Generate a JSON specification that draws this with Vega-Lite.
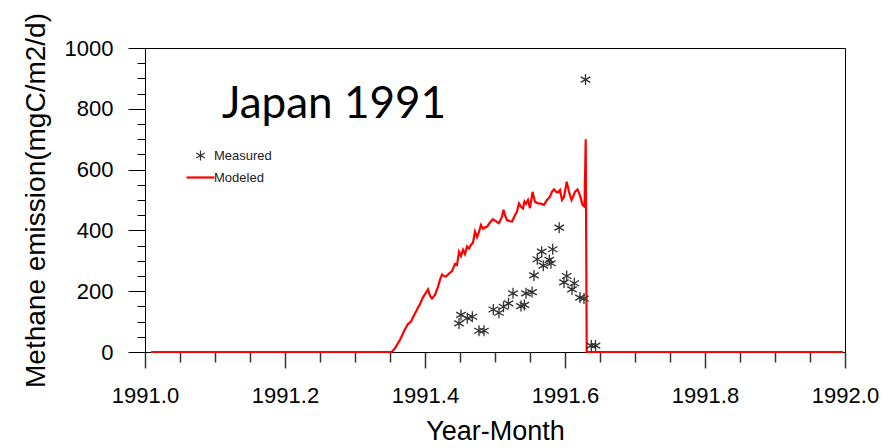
{
  "$schema": "https://vega.github.io/schema/vega-lite/v6.json",
  "width": 700,
  "height": 304,
  "autosize": {"type": "none"},
  "padding": {"left": 145, "top": 48, "right": 48, "bottom": 96},
  "background": "white",
  "config": {
    "view": {"stroke": "#000", "strokeWidth": 1},
    "font": "Liberation Sans",
    "axis": {"grid": false, "domainColor": "#000", "tickColor": "#000", "labelColor": "#000", "titleColor": "#000"}
  },
  "datasets": {
    "modeled": [
      {"t": 1991.0086, "v": 0}, {"t": 1991.3524, "v": 0}, {"t": 1991.3571, "v": 12}, {"t": 1991.3643, "v": 40},
      {"t": 1991.3714, "v": 75}, {"t": 1991.3757, "v": 92}, {"t": 1991.38, "v": 100}, {"t": 1991.3843, "v": 120},
      {"t": 1991.3886, "v": 140}, {"t": 1991.3929, "v": 158}, {"t": 1991.3971, "v": 180}, {"t": 1991.4014, "v": 195},
      {"t": 1991.4043, "v": 206}, {"t": 1991.4071, "v": 185}, {"t": 1991.41, "v": 176}, {"t": 1991.4143, "v": 188},
      {"t": 1991.4186, "v": 215}, {"t": 1991.4214, "v": 237}, {"t": 1991.4243, "v": 255}, {"t": 1991.4271, "v": 250},
      {"t": 1991.43, "v": 248}, {"t": 1991.4343, "v": 258}, {"t": 1991.4386, "v": 266}, {"t": 1991.4429, "v": 290},
      {"t": 1991.4457, "v": 286}, {"t": 1991.4486, "v": 330}, {"t": 1991.4514, "v": 316}, {"t": 1991.4543, "v": 336},
      {"t": 1991.4571, "v": 322}, {"t": 1991.46, "v": 347}, {"t": 1991.4629, "v": 340}, {"t": 1991.4657, "v": 352},
      {"t": 1991.4686, "v": 360}, {"t": 1991.4714, "v": 396}, {"t": 1991.4743, "v": 378}, {"t": 1991.4771, "v": 395},
      {"t": 1991.48, "v": 418}, {"t": 1991.4829, "v": 405}, {"t": 1991.4857, "v": 410}, {"t": 1991.4886, "v": 412},
      {"t": 1991.4929, "v": 426}, {"t": 1991.4971, "v": 437}, {"t": 1991.5014, "v": 430}, {"t": 1991.5057, "v": 424},
      {"t": 1991.51, "v": 445}, {"t": 1991.5121, "v": 468}, {"t": 1991.5143, "v": 450}, {"t": 1991.5171, "v": 434},
      {"t": 1991.5214, "v": 430}, {"t": 1991.5243, "v": 429}, {"t": 1991.5286, "v": 450}, {"t": 1991.5314, "v": 462},
      {"t": 1991.5343, "v": 489}, {"t": 1991.5371, "v": 478}, {"t": 1991.54, "v": 472}, {"t": 1991.5421, "v": 495},
      {"t": 1991.5443, "v": 488}, {"t": 1991.5471, "v": 500}, {"t": 1991.55, "v": 473}, {"t": 1991.5536, "v": 527},
      {"t": 1991.5571, "v": 494}, {"t": 1991.5614, "v": 489}, {"t": 1991.5657, "v": 488}, {"t": 1991.57, "v": 484},
      {"t": 1991.5743, "v": 500}, {"t": 1991.5786, "v": 511}, {"t": 1991.5814, "v": 528}, {"t": 1991.5843, "v": 535},
      {"t": 1991.5871, "v": 527}, {"t": 1991.59, "v": 525}, {"t": 1991.5929, "v": 533}, {"t": 1991.5957, "v": 500},
      {"t": 1991.5986, "v": 510}, {"t": 1991.6024, "v": 560}, {"t": 1991.6057, "v": 527}, {"t": 1991.6093, "v": 500},
      {"t": 1991.6114, "v": 510}, {"t": 1991.6143, "v": 527}, {"t": 1991.6179, "v": 535}, {"t": 1991.6214, "v": 515},
      {"t": 1991.625, "v": 484}, {"t": 1991.6279, "v": 478}, {"t": 1991.6296, "v": 700}, {"t": 1991.631, "v": 0},
      {"t": 1991.9971, "v": 0}
    ],
    "measured": [
      {"t": 1991.4514, "v": 122}, {"t": 1991.4486, "v": 94}, {"t": 1991.4604, "v": 111}, {"t": 1991.4676, "v": 116},
      {"t": 1991.4771, "v": 70}, {"t": 1991.4843, "v": 70}, {"t": 1991.4976, "v": 140}, {"t": 1991.5057, "v": 129},
      {"t": 1991.5121, "v": 149}, {"t": 1991.5193, "v": 160}, {"t": 1991.5257, "v": 193}, {"t": 1991.5371, "v": 151},
      {"t": 1991.5419, "v": 155}, {"t": 1991.5443, "v": 193}, {"t": 1991.5529, "v": 197}, {"t": 1991.5557, "v": 252},
      {"t": 1991.5604, "v": 305}, {"t": 1991.5667, "v": 330}, {"t": 1991.569, "v": 284}, {"t": 1991.5776, "v": 303},
      {"t": 1991.58, "v": 292}, {"t": 1991.5824, "v": 338}, {"t": 1991.5917, "v": 409}, {"t": 1991.5986, "v": 229},
      {"t": 1991.6024, "v": 250}, {"t": 1991.61, "v": 206}, {"t": 1991.6133, "v": 226}, {"t": 1991.6214, "v": 179},
      {"t": 1991.6271, "v": 176}, {"t": 1991.6293, "v": 896}, {"t": 1991.6376, "v": 21}, {"t": 1991.6436, "v": 21}
    ],
    "label": [{"name": "Japan 1991"}]
  },
  "resolve": {"axis": {"x": "independent", "y": "independent"}},
  "layer": [
    {
      "data": {"name": "modeled"},
      "mark": {"type": "line", "color": "#ff0000", "strokeWidth": 2.2},
      "encoding": {
        "x": {
          "field": "t", "type": "quantitative",
          "scale": {"domain": [1991, 1992], "nice": false, "zero": false},
          "axis": {
            "orient": "bottom", "values": [1991, 1991.2, 1991.4, 1991.6, 1991.8, 1992], "format": ".1f",
            "tickSize": 16, "tickWidth": 1.5, "tickColor": "#333", "labelFontSize": 22, "labelPadding": 17, "labelFlush": false, "labelOverlap": false,
            "title": "Year-Month", "titleFontSize": 27, "titleFontWeight": "normal", "titlePadding": 12,
            "encode": {"ticks": {"update": {"y": {"value": 0}, "y2": {"value": 16}}}}
          }
        },
        "y": {
          "field": "v", "type": "quantitative",
          "scale": {"domain": [0, 1000], "nice": false},
          "axis": {
            "orient": "left", "values": [0, 200, 400, 600, 800, 1000], "format": "d",
            "tickSize": 17, "labelFontSize": 22, "labelPadding": 15, "labelFlush": false, "labelOverlap": false,
            "title": "Methane emission(mgC/m2/d)", "titleFontSize": 28, "titleFontWeight": "normal", "titlePadding": 14
          }
        },
        "color": {
          "datum": "Modeled",
          "scale": {"domain": ["Measured", "Modeled"], "range": ["#333333", "#ff0000"]},
          "legend": {
            "title": null, "orient": "none", "legendX": 49, "legendY": 101, "padding": 0,
            "symbolSize": 100, "labelFontSize": 13, "labelColor": "#222", "labelOffset": 7, "rowPadding": 8,
            "encode": {
              "symbols": {
                "update": {
                  "shape": {"signal": "datum.value === 'Modeled' ? 'stroke' : 'M0,-1V1M-0.866,-0.5L0.866,0.5M-0.866,0.5L0.866,-0.5'"},
                  "size": {"signal": "datum.value === 'Modeled' ? 784 : 100"},
                  "strokeWidth": {"signal": "datum.value === 'Modeled' ? 2.2 : 1.2"},
                  "fill": {"value": "transparent"}
                }
              }
            }
          }
        }
      }
    },
    {
      "data": {"name": "measured"},
      "mark": {"type": "point", "filled": false, "shape": "M0,-1V1M-0.866,-0.5L0.866,0.5M-0.866,0.5L0.866,-0.5", "size": 121, "strokeWidth": 1.3, "opacity": 1},
      "encoding": {
        "x": {
          "field": "t", "type": "quantitative",
          "axis": {
            "orient": "bottom", "values": [1991.05, 1991.1, 1991.15, 1991.25, 1991.3, 1991.35, 1991.45, 1991.5, 1991.55, 1991.65, 1991.7, 1991.75, 1991.85, 1991.9, 1991.95],
            "tickSize": 10, "tickWidth": 1.5, "tickColor": "#333", "labels": false, "domain": false, "title": null,
            "encode": {"ticks": {"update": {"y": {"value": 0}, "y2": {"value": 10}}}}
          }
        },
        "y": {
          "field": "v", "type": "quantitative",
          "axis": {
            "orient": "left", "values": [50, 100, 150, 250, 300, 350, 450, 500, 550, 650, 700, 750, 850, 900, 950],
            "tickSize": 8, "labels": false, "domain": false, "title": null
          }
        },
        "color": {"datum": "Measured"}
      }
    },
    {
      "data": {"name": "label"},
      "mark": {"type": "text", "font": "Lato", "fontSize": 44, "align": "left", "baseline": "alphabetic", "color": "#000"},
      "encoding": {
        "x": {"datum": 1991.11, "type": "quantitative", "axis": null},
        "y": {"datum": 770, "type": "quantitative", "axis": null},
        "text": {"field": "name"}
      }
    }
  ]
}
